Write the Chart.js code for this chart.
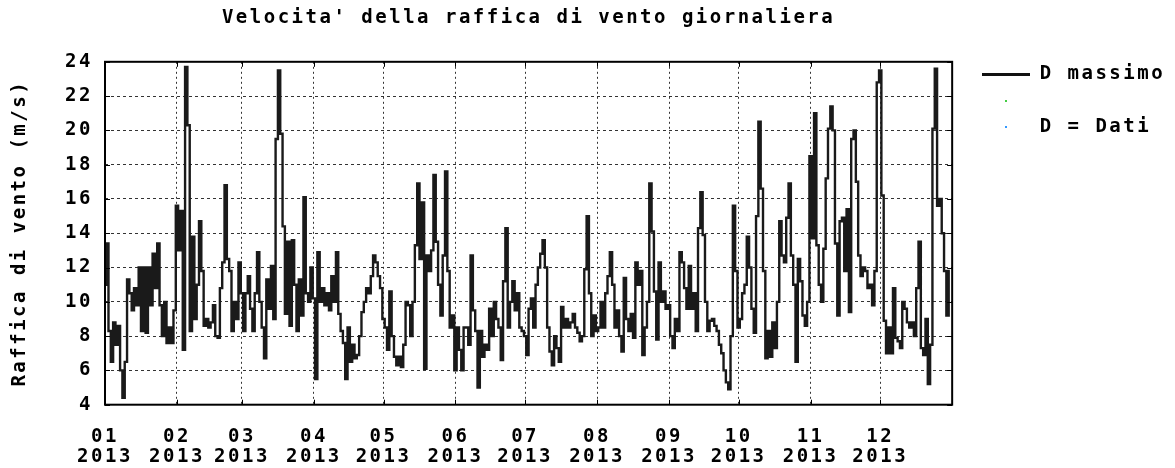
<!DOCTYPE html>
<html><head><meta charset="utf-8">
<script src="https://cdn.jsdelivr.net/npm/chart.js@4.4.1/dist/chart.umd.min.js"></script>
<style>html,body{margin:0;padding:0;background:#fff;}canvas{display:block;}</style>
</head><body>
<canvas id="c" width="1175" height="468" style="width:1175px;height:468px"></canvas>
<script>
// Daily max wind gust (m/s), 2013, one array per month
const jan = [11.0,13.4,8.3,6.5,8.8,7.5,8.6,6.0,4.4,6.5,11.3,10.5,9.5,10.8,9.8,12.0,8.3,12.0,8.2,12.0,9.8,12.8,10.8,13.4,9.8,8.0,10.0,7.6,8.5,7.6,9.5];
const feb = [15.6,13.0,15.3,7.2,23.7,20.3,8.3,13.8,9.0,11.0,14.7,11.8,8.6,9.0,8.5,8.8,9.8,8.0,7.9,10.8,12.3,16.8,12.5,11.8,8.3,10.0,9.0,12.3];
const mar = [10.5,8.3,10.5,11.5,9.6,8.3,10.5,12.9,10.0,8.5,6.7,11.3,9.6,12.1,9.0,19.5,23.5,19.8,14.4,9.3,13.5,8.6,13.6,11.0,8.3,11.3,9.2,16.1,10.5,10.0,12.0];
const apr = [10.2,5.5,12.9,10.0,10.8,9.8,10.5,9.5,11.5,10.0,12.9,9.3,8.3,7.6,5.5,8.5,6.5,7.5,6.7,6.9,8.0,9.4,10.0,10.8,10.5,11.5,12.7,12.3,11.5,10.8];
const may = [9.0,8.5,7.2,10.6,8.0,6.8,6.3,6.8,6.2,7.5,10.0,9.8,8.0,10.0,13.3,16.9,12.5,15.8,6.1,12.7,11.8,13.0,17.4,13.5,11.0,9.2,12.7,17.6,11.8,8.5,9.2];
const jun = [6.0,8.5,7.2,6.0,8.5,8.5,7.5,12.7,9.5,8.3,5.0,8.3,6.8,7.5,7.2,9.6,8.0,10.0,9.0,8.5,6.6,11.2,14.3,8.5,10.0,11.2,9.5,10.5,8.5,8.3];
const jul = [8.0,6.9,9.6,10.2,8.5,11.0,12.0,12.8,13.6,12.0,8.5,7.1,6.3,8.0,7.3,6.5,9.7,8.5,9.0,8.5,8.8,9.3,8.5,8.2,7.7,8.0,11.9,15.0,10.5,8.0,9.2];
const aug = [8.3,8.5,10.0,8.5,10.5,11.5,12.9,11.0,8.5,9.5,8.0,7.1,11.4,9.0,8.3,9.3,7.9,12.3,11.0,11.8,6.9,8.5,10.0,16.9,14.1,10.6,7.8,12.3,10.0,10.6,9.6];
const sep = [9.8,8.0,7.3,9.0,8.3,12.9,12.3,10.8,9.6,12.1,9.6,10.5,8.3,14.3,16.4,13.9,10.0,8.3,8.9,9.0,8.6,8.3,7.5,7.0,6.0,5.3,4.9,8.0,15.6,11.8];
const oct = [8.5,9.0,10.5,11.0,13.8,12.0,9.6,8.2,15.0,20.5,16.6,11.8,6.7,8.3,6.8,8.8,7.3,10.0,14.7,12.7,12.3,14.9,16.9,12.7,11.0,6.5,12.5,11.2,9.2,8.6,10.0];
const nov = [18.5,13.7,21.0,13.3,11.0,10.0,13.1,17.2,20.1,21.4,20.0,13.4,9.2,14.7,14.9,11.8,15.4,9.4,19.5,20.0,17.0,12.7,11.5,12.0,11.8,10.8,11.0,9.8,11.8,22.8];
const dec = [23.5,16.2,8.9,7.0,8.5,7.0,10.8,7.9,7.7,7.3,10.0,9.6,8.8,8.5,8.8,8.0,10.8,13.5,7.3,6.9,9.0,5.2,7.5,20.1,23.6,15.6,16.0,14.0,11.8,9.2,11.8];

const monthLabels = ['01','02','03','04','05','06','07','08','09','10','11','12'];
const yearLabel = '2013';
const monthStartDays = [0,31,59,90,120,151,181,212,243,273,304,334];
const seriesLabels = ['D massimo', '', 'D = Dati'];
const titleText = "Velocita' della raffica di vento giornaliera";
const yTitle = 'Raffica di vento (m/s)';

const gusts = [].concat(jan, feb, mar, apr, may, jun, jul, aug, sep, oct, nov, dec);
const points = gusts.map((v, i) => ({x: i, y: v}));

const FONT = '"DejaVu Sans Mono", "Liberation Mono", monospace';
const LS = '2.5px';
const font = {family: FONT, size: 19, weight: 'bold'};

function mark(w, h, color) {
  const c = document.createElement('canvas');
  c.width = w; c.height = h;
  const g = c.getContext('2d');
  g.fillStyle = color; g.fillRect(0, 0, w, h);
  return c;
}
const legendMarks = [mark(48, 3, '#111'), mark(2, 2, '#44cc44'), mark(2, 2, '#3399ff')];

const spacingPlugin = {
  id: 'spacing',
  beforeLayout(chart) { chart.ctx.letterSpacing = LS; },
  beforeDraw(chart) { chart.ctx.letterSpacing = LS; }
};

const framePlugin = {
  id: 'frame',
  afterDatasetsDraw(chart) {
    const {ctx, chartArea: {left, top, right, bottom}, scales: {x, y}} = chart;
    ctx.save();
    ctx.setLineDash([]);
    ctx.strokeStyle = '#000';
    ctx.lineWidth = 1;
    ctx.beginPath();
    y.ticks.forEach(t => {
      const py = Math.round(y.getPixelForValue(t.value)) + 0.5;
      ctx.moveTo(left, py); ctx.lineTo(left + 5, py);
      ctx.moveTo(right, py); ctx.lineTo(right - 5, py);
    });
    x.ticks.forEach(t => {
      const px = Math.round(x.getPixelForValue(t.value)) + 0.5;
      ctx.moveTo(px, top); ctx.lineTo(px, top + 5);
      ctx.moveTo(px, bottom); ctx.lineTo(px, bottom - 5);
    });
    ctx.stroke();
    ctx.lineWidth = 2;
    ctx.strokeStyle = '#000';
    ctx.strokeRect(left, top, right - left, bottom - top);
    ctx.restore();
  }
};

new Chart(document.getElementById('c'), {
  type: 'line',
  data: {
    datasets: [
      {label: seriesLabels[0], data: points, borderColor: '#1a1a1a', backgroundColor: '#1a1a1a', borderWidth: 2.4, pointRadius: 0, tension: 0, stepped: 'middle', fill: false},
      {label: seriesLabels[1], data: [], borderColor: '#44cc44', backgroundColor: '#44cc44', pointRadius: 0},
      {label: seriesLabels[2], data: [], borderColor: '#3399ff', backgroundColor: '#3399ff', pointRadius: 0}
    ]
  },
  options: {
    responsive: false,
    animation: false,
    devicePixelRatio: 1,
    layout: {padding: {left: 0, right: 0, top: 0, bottom: 0}},
    scales: {
      x: {
        type: 'linear', min: 0, max: 365, offset: false,
        afterBuildTicks(scale) { scale.ticks = monthStartDays.map(v => ({value: v})); },
        afterFit(scale) { scale.height = 63.3; },
        ticks: {
          autoSkip: false, maxRotation: 0, minRotation: 0, padding: 22, color: '#000',
          font: {family: FONT, size: 19, weight: 'bold', lineHeight: 1.06},
          callback(value) { const i = monthStartDays.indexOf(value); return i >= 0 ? [monthLabels[i], yearLabel] : ''; }
        },
        grid: {color: '#333', lineWidth: 1, drawTicks: false},
        border: {display: false, dash: [2, 3]}
      },
      y: {
        min: 4, max: 24,
        afterFit(scale) { scale.width = 105; },
        ticks: {stepSize: 2, padding: 12, color: '#000', font: font},
        grid: {color: '#333', lineWidth: 1, drawTicks: false},
        border: {display: false, dash: [3, 3]},
        title: {display: true, text: yTitle, color: '#000', font: font, padding: {top: 9, bottom: 0}}
      },
      y2: {
        position: 'right', min: 4, max: 24,
        afterFit(scale) { scale.width = 27; },
        ticks: {display: false},
        grid: {display: false, drawTicks: false},
        border: {display: false}
      }
    },
    plugins: {
      title: {display: true, text: titleText, color: '#000', font: font, fullSize: false, padding: {top: 7, bottom: 32}},
      legend: {
        position: 'right', align: 'start', fullSize: false,
        labels: {
          usePointStyle: true, pointStyleWidth: 48, padding: 3, color: '#000',
          font: {family: FONT, size: 19, weight: 'bold', lineHeight: 1.24},
          generateLabels(chart) {
            return chart.data.datasets.map((ds, i) => ({
              text: [ds.label], pointStyle: legendMarks[i], fillStyle: 'rgba(0,0,0,0)', strokeStyle: 'rgba(0,0,0,0)',
              lineWidth: 0, hidden: false, datasetIndex: i, fontColor: '#000'
            }));
          }
        }
      },
      tooltip: {enabled: false}
    }
  },
  plugins: [spacingPlugin, framePlugin]
});
</script>
</body></html>
